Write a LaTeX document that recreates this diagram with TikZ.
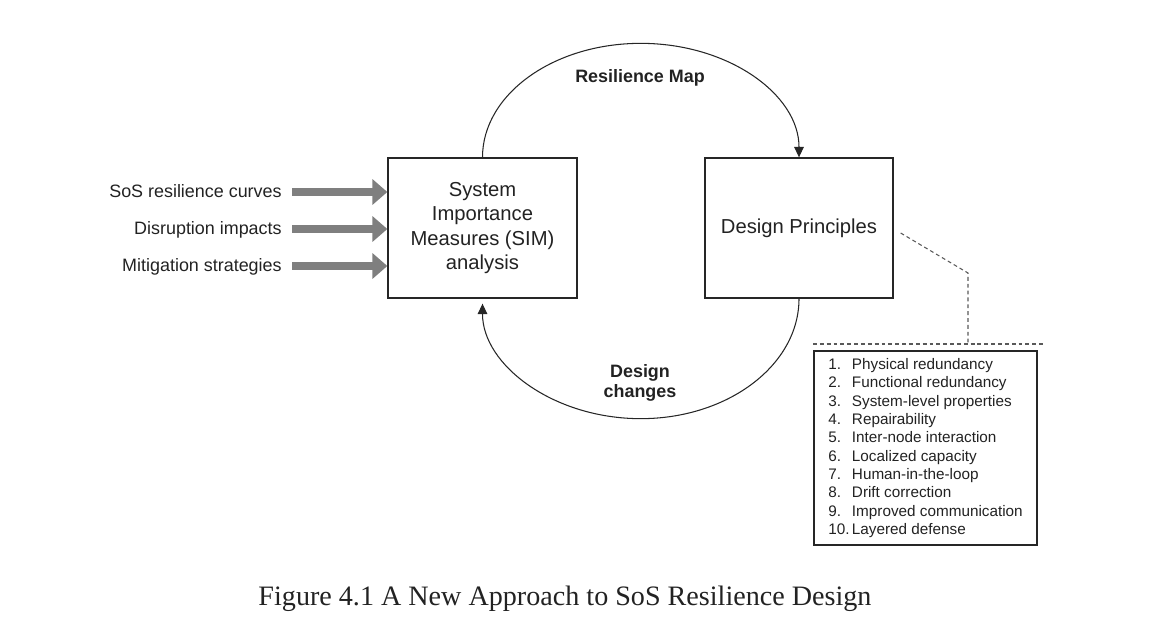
\documentclass[tikz,border=0pt]{standalone}
\usepackage{fontspec}
\setmainfont{Liberation Sans}
\newfontfamily\capfont{Liberation Serif}
\usepackage{tikz}
\usetikzlibrary{arrows.meta,positioning,calc}
\definecolor{feedgray}{HTML}{7F7F7F}
\definecolor{inkgray}{HTML}{222222}
\tikzset{
  blockbox/.style={draw=black!85, line width=0.75pt, minimum width=3.78cm, minimum height=2.8cm,
                   align=center, text=inkgray, font=\fontsize{11.5}{13.9}\selectfont},
  loop/.style={-{Triangle[length=6pt, width=5.5pt]}, line width=0.6pt, draw=black!85},
  looplbl/.style={align=center, text=inkgray, font=\fontsize{10.2}{11.3}\selectfont\bfseries},
  feedlbl/.style={anchor=east, text=inkgray, inner sep=0pt, text height=1.6ex, text depth=0.35ex,
                  font=\fontsize{10.2}{12}\selectfont},
  feed/.style={-{Triangle[length=8.5pt, width=14.2pt]}, line width=5.1pt, draw=feedgray,
               shorten <=0.2cm},
  callout/.style={draw=black!65, line width=0.6pt, dash pattern=on 2.2pt off 1.7pt},
}

\begin{document}
\begin{tikzpicture}[
    listbox/.style={draw=black!85, line width=0.75pt, minimum width=4.46cm, minimum height=3.88cm,
                    align=left, text=inkgray, font=\fontsize{8.7}{10.45}\selectfont}]
  \useasboundingbox (0,0) rectangle (23.06,-12.78);
  % main blocks
  \node[blockbox] (sim) at (9.65,-4.56) {System\\Importance\\Measures (SIM)\\analysis};
  \node[blockbox, minimum width=3.76cm] (dp) at (15.98,-4.56) {Design Principles};
  % loop between blocks
  \draw[loop] (sim.north) arc[start angle=180, end angle=0, x radius=3.165cm, y radius=2.28cm];
  \draw[loop, shorten >=0.1cm] (dp.south) arc[start angle=0, end angle=-180, x radius=3.165cm, y radius=2.4cm];
  \node[looplbl] (mapl) at (12.8,-1.56) {Resilience Map};
  \node[looplbl] (chgl) at (12.8,-7.65) {Design\\changes};
  % inputs
  \node[feedlbl] (inA) at (5.64,-3.84) {SoS resilience curves};
  \node[feedlbl] (inB) at (5.64,-4.58) {Disruption impacts};
  \node[feedlbl] (inC) at (5.64,-5.32) {Mitigation strategies};
  \foreach \n in {inA,inB,inC}
    \draw[feed] (\n.east) -- (\n.east -| sim.west);
  % principles list
  \node[listbox, inner xsep=6pt] (list) at (18.51,-8.96) {%
    \makebox[13.5pt][l]{1.}Physical redundancy\\
    \makebox[13.5pt][l]{2.}Functional redundancy\\
    \makebox[13.5pt][l]{3.}System-level properties\\
    \makebox[13.5pt][l]{4.}Repairability\\
    \makebox[13.5pt][l]{5.}Inter-node interaction\\
    \makebox[13.5pt][l]{6.}Localized capacity\\
    \makebox[13.5pt][l]{7.}Human-in-the-loop\\
    \makebox[13.5pt][l]{8.}Drift correction\\
    \makebox[13.5pt][l]{9.}Improved communication\\
    \makebox[13.5pt][l]{10.}Layered defense};
  \coordinate (bend) at (19.36,-5.46);
  \coordinate (tabL) at (16.26,-6.88);
  \coordinate (tabR) at (20.86,-6.88);
  \draw[callout] ($(dp.east)+(0.14,-0.1)$) -- (bend) -- (bend |- tabL);
  \draw[callout] (tabL) -- (tabR);
  % caption
  \node[font=\capfont\fontsize{16}{18}\selectfont, text=inkgray] (cap) at (11.3,-11.97)
    {Figure 4.1 A New Approach to SoS Resilience Design};
\end{tikzpicture}
\end{document}
